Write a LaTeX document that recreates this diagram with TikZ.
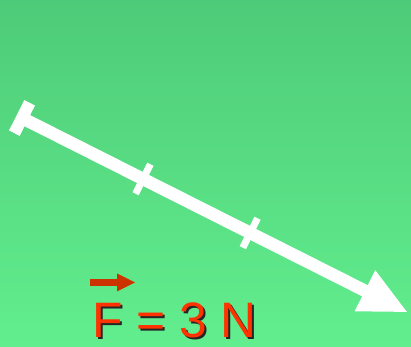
\documentclass[tikz,border=0pt]{standalone}
\usepackage{fontspec}
\setmainfont{Liberation Sans}
\definecolor{bgtop}{RGB}{78,203,120}
\definecolor{bgbottom}{RGB}{98,238,142}
\definecolor{forcered}{RGB}{255,51,0}
\definecolor{vecred}{RGB}{204,51,0}
\newcommand{\forcetext}{F = 3 N}
\begin{document}
\begin{tikzpicture}[x=0.03cm, y=-0.03cm]
                % background
                \shade[top color=bgtop, bottom color=bgbottom] (0,0) rectangle (411,347);
                \useasboundingbox (0,0) rectangle (411,347);
                \coordinate (tail) at (22,118);
                \begin{scope}[shift={(tail)}, rotate=-26.74]
                    \coordinate (shaftend) at (386,0);
                    \coordinate (tip) at (431,0);
                    \draw[white, line width=0.375cm] (0,0) -- (shaftend);
                    \fill[white] (-6,-17) rectangle (6,17);
                    \fill[white] (132,-16.5) rectangle (139,16.5);
                    \fill[white] (252,-16.5) rectangle (259,16.5);
                    \fill[white] (384,-23) -- (tip) -- (384,23) -- cycle;
                \end{scope}
                % vector sign and label
                \coordinate (vecstart) at (90,282.5);
                \coordinate (vecend) at (135,282.5);
                \draw[vecred, line width=0.2cm] (vecstart) -- (118,282.5);
                \fill[vecred] (117,273.5) -- (vecend) -- (117,291.5) -- cycle;
                \node[anchor=base west, inner sep=0pt, text depth=0pt, text=forcered] (force) at (92,338)
                    {\fontsize{42.5}{42.5}\selectfont
                     \rlap{\hspace{0.06cm}\raisebox{-0.05cm}{\color{black!85}\forcetext}}\forcetext};
            \end{tikzpicture}
\end{document}
